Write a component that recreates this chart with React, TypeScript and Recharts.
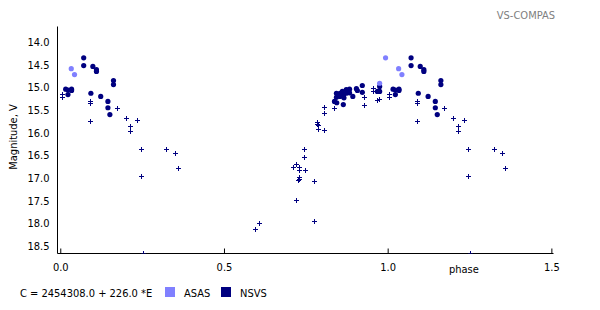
import React from 'react';
import { ScatterChart, Scatter, XAxis, YAxis } from 'recharts';

// ASAS observations (phase, V magnitude)
const asasPhase = [0.032, 0.042, 0.974, 0.992];
const asasMag = [14.59, 14.72, 14.91, 14.35];

// NSVS observations, good quality (filled dots)
const nsvsPhase = [
  0.015, 0.022, 0.022, 0.033, 0.033, 0.070, 0.070, 0.098, 0.109, 0.109,
  0.092, 0.122, 0.144, 0.144, 0.150, 0.161, 0.161,
  0.836, 0.843, 0.863, 0.842, 0.842, 0.853, 0.853, 0.860, 0.864, 0.865,
  0.872, 0.872, 0.882, 0.882, 0.892, 0.903, 0.906, 0.921, 0.921, 0.967,
  0.974, 0.974,
];
const nsvsMag = [
  15.04, 15.06, 15.16, 15.04, 15.07, 14.35, 14.52, 14.54, 14.61, 14.65,
  15.13, 15.20, 15.31, 15.45, 15.60, 14.85, 14.94,
  15.31, 15.34, 15.38, 15.13, 15.22, 15.13, 15.20, 15.09, 15.16, 15.23,
  15.05, 15.13, 15.04, 15.12, 15.20, 15.03, 15.07, 14.96, 15.11, 15.09,
  14.98, 15.09,
];

// NSVS observations, faint / low quality (crosses)
const nsvsFaintPhase = [
  0.003, 0.003, 0.089, 0.089, 0.172, 0.089, 0.199, 0.233, 0.212, 0.212,
  0.245, 0.322, 0.349, 0.358, 0.245, 0.251,
  0.593, 0.605, 0.743, 0.743, 0.718, 0.709, 0.728, 0.728, 0.746, 0.728,
  0.728, 0.725, 0.773, 0.718, 0.773, 0.783, 0.783, 0.786, 0.786, 0.804,
  0.804, 0.804, 0.834, 0.926, 0.926, 0.954, 0.954, 0.972, 0.967,
];
const nsvsFaintMag = [
  15.15, 15.22, 15.30, 15.35, 15.45, 15.74, 15.67, 15.72, 15.85, 15.96,
  16.36, 16.36, 16.44, 16.77, 16.95, 18.65,
  18.12, 17.99, 16.36, 16.53, 16.69, 16.75, 16.75, 16.82, 16.82, 16.97,
  17.02, 17.04, 17.06, 17.48, 17.94, 15.77, 15.81, 15.84, 15.92, 15.94,
  15.43, 15.56, 15.45, 15.21, 15.39, 15.02, 15.09, 15.26, 15.28,
];

const xTicks = [0, 0.5, 1.0, 1.5];
const yTicks = [14.0, 14.5, 15.0, 15.5, 16.0, 16.5, 17.0, 17.5, 18.0, 18.5];

const X_DOMAIN: [number, number] = [-0.01, 1.505];
const Y_DOMAIN: [number, number] = [13.66, 18.66];

// Phase plot: each observation is shown at phase and phase + 1 (within axis range)
function fold(phases: number[], mags: number[]) {
  const out: { x: number; y: number }[] = [];
  phases.forEach((p, i) => {
    out.push({ x: p, y: mags[i] });
    if (p + 1 <= X_DOMAIN[1]) out.push({ x: p + 1, y: mags[i] });
  });
  return out;
}

const asasData = fold(asasPhase, asasMag);
const nsvsData = fold(nsvsPhase, nsvsMag);
const nsvsFaintData = fold(nsvsFaintPhase, nsvsFaintMag);

const FONT = "'DejaVu Sans Condensed', 'DejaVu Sans', sans-serif";
const NAVY = '#000080';
const ASAS_COLOR = '#8080ff';

const Dot = (color: string) => (props: any) => {
  const { cx, cy } = props;
  if (cx == null || cy == null) return <g />;
  return <circle cx={cx} cy={cy} r={2.6} fill={color} />;
};

const Cross = (props: any) => {
  const { cx, cy } = props;
  if (cx == null || cy == null) return <g />;
  const x = Math.round(cx) + 0.5;
  const y = Math.round(cy) + 0.5;
  return (
    <path
      d={`M${x - 2.5},${y}H${x + 2.5}M${x},${y - 2.5}V${y + 2.5}`}
      stroke={NAVY}
      strokeWidth={1}
      fill="none"
    />
  );
};

const fmt = (v: number) => v.toFixed(1);

export default function App() {
  const tickStyle = { fill: '#000', fontSize: 11, fontFamily: FONT };
  return (
    <div style={{ position: 'absolute', left: 0, top: 0, width: 600, height: 310, background: '#fff' }}>
      <ScatterChart
        width={600}
        height={310}
        margin={{ top: 26.5, right: 46.5, bottom: 26.5, left: 0.5 }}
        style={{ fontFamily: FONT }}
      >
        <XAxis
          xAxisId="b"
          dataKey="x"
          type="number"
          domain={X_DOMAIN}
          ticks={xTicks}
          allowDataOverflow
          height={30}
          tickFormatter={fmt}
          tick={tickStyle}
          tickSize={-5}
          tickMargin={15}
          axisLine={{ stroke: '#000' }}
          tickLine={{ stroke: '#000' }}
        />
        <XAxis
          xAxisId="t"
          orientation="top"
          dataKey="x"
          type="number"
          domain={X_DOMAIN}
          ticks={xTicks}
          allowDataOverflow
          height={0}
          tick={false}
          tickSize={-4}
          axisLine={{ stroke: '#000' }}
          tickLine={{ stroke: '#000' }}
        />
        <YAxis
          yAxisId="l"
          dataKey="y"
          type="number"
          domain={Y_DOMAIN}
          ticks={yTicks}
          reversed
          allowDataOverflow
          width={57}
          tickFormatter={fmt}
          tick={tickStyle}
          tickSize={0}
          tickMargin={8}
          axisLine={{ stroke: '#000' }}
          tickLine={false}
        />
        <YAxis
          yAxisId="r"
          orientation="right"
          dataKey="y"
          type="number"
          domain={Y_DOMAIN}
          ticks={yTicks}
          reversed
          allowDataOverflow
          width={0}
          tick={false}
          tickSize={-4}
          axisLine={{ stroke: '#000' }}
          tickLine={{ stroke: '#000' }}
        />
        <Scatter
          name="NSVS faint"
          data={nsvsFaintData}
          xAxisId="b"
          yAxisId="l"
          shape={Cross}
          isAnimationActive={false}
        />
        <Scatter
          name="NSVS"
          data={nsvsData}
          xAxisId="b"
          yAxisId="l"
          shape={Dot(NAVY)}
          isAnimationActive={false}
        />
        <Scatter
          name="ASAS"
          data={asasData}
          xAxisId="b"
          yAxisId="l"
          shape={Dot(ASAS_COLOR)}
          isAnimationActive={false}
        />
      </ScatterChart>
      <svg
        width={600}
        height={310}
        style={{ position: 'absolute', left: 0, top: 0, pointerEvents: 'none' }}
        fontFamily={FONT}
        fontSize={11}
      >
        <text x={555} y={19} textAnchor="end" fill="#808080">VS-COMPAS</text>
        <text x={17} y={137} textAnchor="middle" fill="#000" transform="rotate(-90 17 137)">
          Magnitude, V
        </text>
        <text x={449} y={272.5} fill="#000">phase</text>
        <text x={20} y={296.5} fill="#000">C = 2454308.0 + 226.0 *E</text>
        <rect x={165} y={287} width={10} height={10} fill={ASAS_COLOR} />
        <text x={184} y={296.5} fill="#000">ASAS</text>
        <rect x={221} y={287} width={10} height={10} fill={NAVY} />
        <text x={240} y={296.5} fill="#000">NSVS</text>
      </svg>
    </div>
  );
}
